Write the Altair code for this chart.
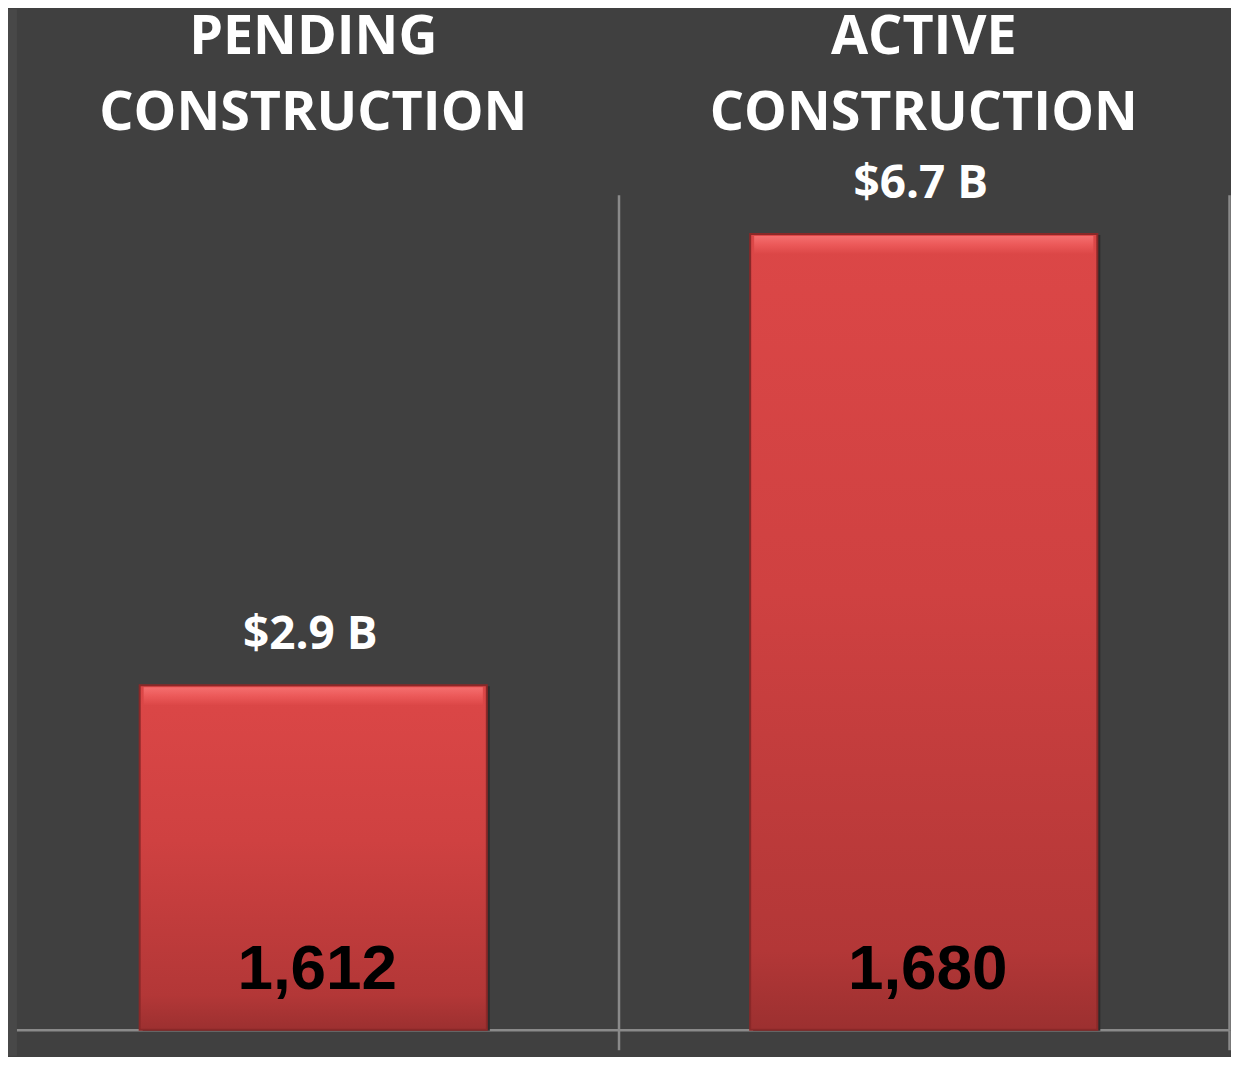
import altair as alt
import pandas as pd

categories = ["PENDING CONSTRUCTION", "ACTIVE CONSTRUCTION"]
title_lines = ["PENDING\nCONSTRUCTION", "ACTIVE\nCONSTRUCTION"]
values_b = [2.9, 6.7]
value_labels = ["$2.9 B", "$6.7 B"]
counts = [1612, 1680]
count_labels = ["1,612", "1,680"]

df = pd.DataFrame({
    "cat": categories,
    "title": title_lines,
    "value": values_b,
    "vlabel": value_labels,
    "count": counts,
    "clabel": count_labels,
})

W, H = 1224, 837
BG = "#404040"
GRID = "#8a8a8a"
BAR_W = 348

xscale = alt.Scale(domain=categories, paddingInner=0, paddingOuter=0)
yscale = alt.Scale(domain=[0, 7.03], nice=False, zero=True)

base = alt.Chart(df)

x_axis = alt.Axis(
    title=None, labels=False, domain=True, domainColor=GRID, domainWidth=2.5,
    ticks=True, tickColor=GRID, tickWidth=2.5, tickSize=20, tickBand="extent",
    grid=True, gridColor=GRID, gridWidth=2.5, orient="bottom",
)

X = alt.X("cat:N", scale=xscale, sort=categories, axis=x_axis)
Y = alt.Y("value:Q", scale=yscale, axis=None)

shadow = base.mark_bar(color="#2c2c2c", width=BAR_W, xOffset=3, yOffset=1).encode(x=X, y=Y)

bars = base.mark_bar(
    width=BAR_W,
    color=alt.Gradient(
        gradient="linear",
        stops=[
            alt.GradientStop(color="#dc4747", offset=0),
            alt.GradientStop(color="#cf4141", offset=0.45),
            alt.GradientStop(color="#b33737", offset=0.9),
            alt.GradientStop(color="#9c3030", offset=1),
        ],
        x1=0, x2=0, y1=0, y2=1,
    ),
    stroke="#8a2828", strokeWidth=2,
).encode(x=X, y=Y)

bevel = base.mark_tick(
    color=alt.Gradient(
        gradient="linear",
        stops=[
            alt.GradientStop(color="#ff8080", offset=0),
            alt.GradientStop(color="#f26060", offset=0.5),
            alt.GradientStop(color="#dc4747", offset=1),
        ],
        x1=0, x2=0, y1=0, y2=1,
    ),
    thickness=18, size=BAR_W - 8, yOffset=11,
).encode(x=X, y=Y)

value_text = base.mark_text(
    font="Open Sans", fontWeight="bold", fontSize=46, color="white",
    baseline="alphabetic", align="center", dy=-36, dx=-3,
).encode(x=X, y=Y, text="vlabel:N")

count_text = base.mark_text(
    font="Liberation Sans", fontWeight="bold", fontSize=64, color="black",
    baseline="alphabetic", align="center", dx=4,
).encode(x=X, y=alt.value(H - 41), text="clabel:N")

title_text = base.mark_text(
    font="Open Sans", fontWeight="bold", fontSize=54, color="white",
    baseline="alphabetic", align="center", lineBreak="\n", lineHeight=76,
).encode(x=X, y=alt.value(-141), text="title:N")

strip = alt.Chart(pd.DataFrame({"s": [0]})).mark_rect(color="#484848").encode(
    x=alt.value(0), x2=alt.value(9), y=alt.value(-186), y2=alt.value(H + 26),
)

chart = alt.layer(shadow, bars, bevel, value_text, count_text, title_text, strip).properties(
    width=W, height=H,
    autosize=alt.AutoSizeParams(type="none"),
    padding={"left": 0, "top": 186, "right": 2, "bottom": 26},
    background=BG,
).configure_view(stroke=None)

chart.save("out.html", embed_options={"renderer": "svg", "actions": False})
